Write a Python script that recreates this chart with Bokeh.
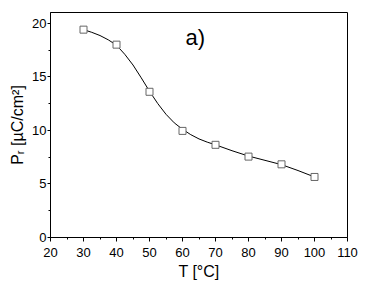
from bokeh.plotting import figure
from bokeh.models import Range1d, FixedTicker, Label
from bokeh.embed import file_html
from bokeh.resources import INLINE

# Measured data points
T = [30, 40, 50, 60, 70, 80, 90, 100]
Pr = [19.4, 18.0, 13.6, 9.95, 8.65, 7.55, 6.83, 5.65]

# Fitted curve
curve_T = [30, 32.5, 35, 37.5, 40, 42.5, 45, 47.5, 50, 52.5, 55, 57.5, 60,
           62.5, 65, 67.5, 70, 75, 80, 85, 90, 95, 100]
curve_P = [19.4, 19.15, 18.85, 18.45, 17.95, 17.1, 16.1, 14.9, 13.65, 12.5,
           11.5, 10.7, 10.1, 9.6, 9.2, 8.9, 8.65, 8.1, 7.6, 7.2, 6.8, 6.25, 5.65]

x_ticks = [20, 30, 40, 50, 60, 70, 80, 90, 100, 110]
y_ticks = [0, 5, 10, 15, 20]
x_minor = [25, 35, 45, 55, 65, 75, 85, 95, 105]
y_minor = [2.5, 7.5, 12.5, 17.5]

FONT = "Liberation Sans"

p = figure(width=368, height=286, output_backend="svg", toolbar_location=None,
           x_range=Range1d(20, 110), y_range=Range1d(0, 21),
           min_border_left=50, min_border_right=21, min_border_top=12,
           min_border_bottom=49)
p.grid.visible = False
p.outline_line_color = "black"
p.outline_line_width = 1
p.background_fill_color = "white"

p.line(curve_T, curve_P, line_color="black", line_width=1)
p.scatter(T, Pr, marker="square", size=7, fill_color="white",
          line_color="#666666", line_width=1)

for ax in (p.xaxis[0], p.yaxis[0]):
    ax.axis_line_color = "black"
    ax.major_tick_line_color = "black"
    ax.minor_tick_line_color = "black"
    ax.major_tick_in = 0
    ax.minor_tick_in = 0
    ax.minor_tick_out = 2
    ax.major_label_text_font = FONT
    ax.major_label_text_font_size = "13px"
    ax.major_label_text_color = "black"
    ax.axis_label_text_font = FONT
    ax.axis_label_text_font_size = "16px"
    ax.axis_label_text_font_style = "normal"
    ax.axis_label_text_color = "black"

p.xaxis.major_tick_out = 4
p.yaxis.major_tick_out = 3
p.xaxis.ticker = FixedTicker(ticks=x_ticks, minor_ticks=x_minor)
p.yaxis.ticker = FixedTicker(ticks=y_ticks, minor_ticks=y_minor)
p.xaxis.major_label_standoff = 6
p.yaxis.major_label_standoff = 1
p.xaxis.axis_label = "T [°C]"
p.yaxis.axis_label = "Pᵣ [µC/cm²]"
p.xaxis.axis_label_standoff = 3
p.yaxis.axis_label_standoff = 3

p.add_layout(Label(x=60.9, y=18.65, text="a)", text_font=FONT,
                   text_font_size="22px", text_color="black",
                   text_baseline="alphabetic"))

open("out.html", "w").write(file_html(p, INLINE))
